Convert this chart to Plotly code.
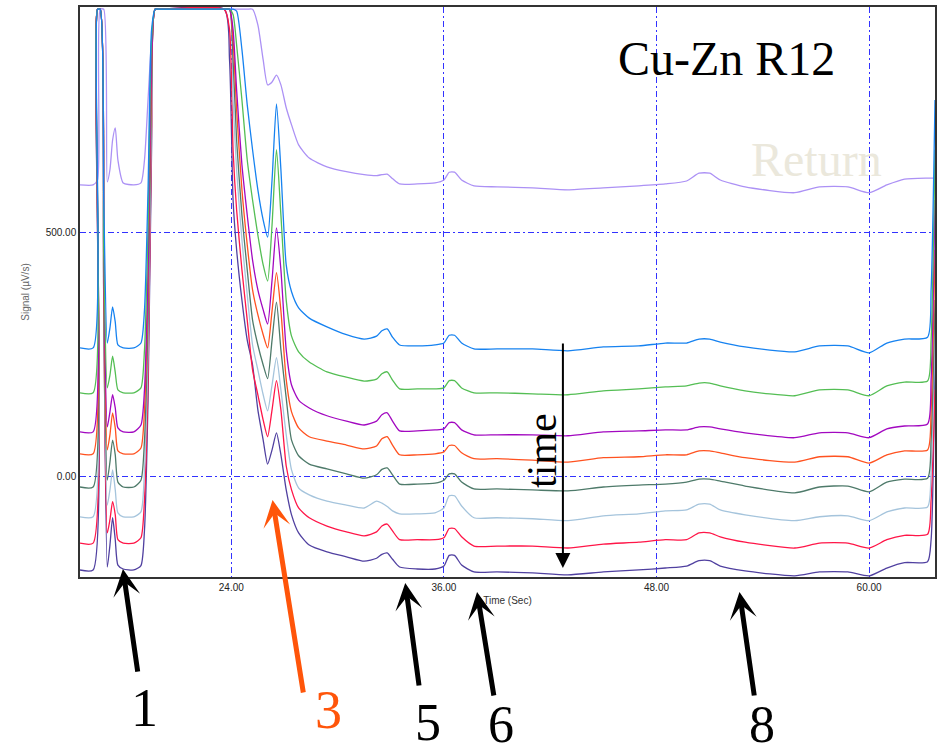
import plotly.graph_objects as go

# time axis (s)
time_s = [15.46, 16.2, 16.45, 16.6, 16.8, 17.0, 17.15, 17.3, 17.45, 17.6, 17.9, 18.5, 18.9, 19.1, 19.3, 19.5, 19.7, 20.0,
          23.6, 23.9, 24.1, 24.3, 24.6, 24.9, 25.2, 25.5, 25.8, 26.05, 26.3, 26.55, 26.8,
          27.1, 27.4, 27.8, 28.4, 29.4, 30.5, 31.5, 32.2, 32.5, 32.8, 33.1, 33.5, 34.5, 35.5, 36.0, 36.3, 36.6, 37.0, 37.7,
          39.0, 41.0, 43.0, 45.0, 47.0, 48.5, 49.7, 50.4, 51.0, 51.6, 53.0, 55.8, 57.2, 58.8, 60.0, 61.0, 62.0, 63.3, 63.5, 63.72]

sig_return = [597, 597, 607, 957, 957, 603, 628, 689, 714, 648, 601, 597, 601, 648, 771, 894, 957, 957,
              957, 957, 957, 957, 957, 957, 957, 925, 853, 802, 808, 822, 802,
              755, 720, 679, 652, 634, 624, 618, 616, 618, 619, 610, 599, 599, 601, 607, 623, 623, 607, 595,
              593, 591, 587, 591, 595, 599, 605, 621, 621, 607, 593, 581, 593, 593, 581, 597, 609, 611, 611, 611]
sig_blue = [263, 263, 957, 957, 566, 273, 304, 347, 316, 269, 263, 263, 273, 341, 587, 915, 957, 957,
            957, 957, 957, 953, 874, 761, 669, 587, 525, 490, 607, 763, 628,
            433, 378, 345, 324, 306, 290, 281, 287, 298, 302, 285, 269, 267, 269, 273, 289, 289, 273, 261,
            261, 261, 257, 265, 267, 273, 273, 281, 281, 275, 265, 255, 267, 267, 253, 273, 281, 285, 382, 771]
sig_green = [171, 171, 957, 957, 464, 181, 207, 246, 213, 177, 171, 171, 181, 259, 505, 894, 957, 957,
             957, 957, 946, 884, 771, 648, 566, 494, 433, 400, 515, 669, 535,
             361, 287, 255, 234, 214, 203, 195, 199, 210, 214, 197, 179, 179, 179, 181, 196, 196, 181, 171,
             171, 169, 167, 175, 179, 183, 185, 191, 191, 185, 175, 165, 177, 177, 165, 185, 193, 195, 279, 669]
sig_purple = [91, 91, 957, 957, 443, 101, 132, 167, 140, 99, 91, 91, 105, 177, 423, 853, 957, 957,
              957, 957, 915, 792, 638, 535, 443, 382, 341, 312, 402, 509, 423,
              259, 187, 156, 140, 124, 113, 105, 113, 126, 130, 113, 93, 93, 95, 97, 110, 110, 95, 85,
              85, 85, 83, 91, 93, 95, 95, 101, 101, 97, 89, 79, 89, 89, 79, 97, 103, 107, 198, 566]
sig_orange = [46, 46, 957, 957, 402, 54, 85, 130, 99, 52, 46, 46, 58, 136, 382, 833, 957, 957,
              957, 957, 894, 751, 587, 474, 382, 331, 290, 263, 339, 417, 339,
              198, 132, 99, 81, 72, 64, 56, 62, 77, 81, 64, 44, 44, 46, 50, 63, 63, 48, 36,
              36, 33, 29, 38, 40, 44, 44, 52, 52, 48, 38, 29, 40, 40, 27, 44, 52, 54, 136, 464]
sig_teal = [-22, -22, 957, 957, 361, -8, 29, 74, 44, -12, -22, -22, -8, 74, 320, 792, 957, 957,
            957, 957, 853, 689, 535, 423, 320, 269, 228, 200, 279, 357, 259,
            160, 74, 42, 25, 15, 5, -4, 3, 14, 17, 3, -16, -16, -14, -8, 5, 5, -12, -26,
            -26, -28, -30, -22, -18, -16, -12, -6, -6, -10, -20, -34, -22, -20, -32, -12, -6, -4, 74, 361]
sig_lightblue = [-83, -83, 957, 957, 361, -59, -28, 13, -28, -75, -83, -83, -73, 13, 259, 751, 957, 957,
                 957, 957, 771, 628, 484, 372, 269, 218, 167, 134, 187, 243, 177,
                 85, 13, -24, -38, -51, -59, -65, -51, -55, -62, -71, -77, -77, -75, -65, -40, -40, -61, -85,
                 -85, -87, -91, -81, -77, -71, -69, -57, -57, -69, -79, -91, -83, -81, -91, -73, -65, -63, 13, 299]
sig_red = [-137, -137, 957, 957, 361, -116, -89, -52, -79, -130, -137, -137, -126, -48, 198, 710, 957, 957,
           957, 915, 669, 546, 423, 320, 218, 167, 115, 81, 136, 196, 136,
           21, -28, -65, -85, -102, -114, -122, -114, -102, -98, -112, -130, -130, -130, -126, -107, -107, -124, -143,
           -143, -143, -147, -139, -135, -130, -130, -116, -116, -124, -135, -147, -137, -137, -147, -130, -121, -119, -48, 178]
sig_indigo = [-192, -192, 957, 957, 361, -186, -141, -85, -130, -182, -190, -192, -183, -110, 157, 669, 957, 957,
              957, 853, 566, 464, 361, 279, 228, 136, 74, 25, 54, 89, 44,
              -28, -79, -116, -141, -155, -165, -174, -168, -160, -157, -170, -186, -190, -190, -184, -162, -162, -182, -196,
              -196, -198, -202, -196, -192, -188, -184, -173, -173, -184, -194, -204, -196, -196, -204, -188, -177, -175, -130, 244]

x_ticks = [24, 36, 48, 60]
x_ticktext = ["24.00", "36.00", "48.00", "60.00"]
y_ticks = [0, 500]
y_ticktext = ["0.00", "500.00"]

series = [
    ("Return", sig_return, "rgb(172,145,245)"),
    ("run 8", sig_indigo, "rgb(80,64,160)"),
    ("run 7", sig_red, "rgb(255,22,72)"),
    ("run 6", sig_lightblue, "rgb(165,196,220)"),
    ("run 5", sig_teal, "rgb(78,122,106)"),
    ("run 4", sig_orange, "rgb(255,82,32)"),
    ("run 3", sig_purple, "rgb(162,8,192)"),
    ("run 2", sig_green, "rgb(84,190,84)"),
    ("run 1", sig_blue, "rgb(22,130,240)"),
]

fig = go.Figure()
for name, ys, col in series:
    fig.add_trace(go.Scatter(x=time_s, y=ys, mode="lines", name=name,
                             line=dict(color=col, width=1.3, shape="spline", smoothing=0.6),
                             hoverinfo="skip"))

grid_col = "rgb(50,50,255)"
sans = "Liberation Sans, Arial, sans-serif"
serif = "Liberation Serif, Times New Roman, serif"

fig.update_layout(
    width=938, height=753,
    margin=dict(l=80, r=1, t=7, b=176),
    paper_bgcolor="white", plot_bgcolor="white",
    showlegend=False,
    xaxis=dict(range=[15.46, 63.72], tickvals=x_ticks, ticktext=x_ticktext,
               showgrid=True, gridcolor=grid_col, gridwidth=1, griddash="6px,3px,2px,3px",
               zeroline=False, showline=True, linecolor="#333", linewidth=1.5, mirror=True,
               ticks="", tickfont=dict(family=sans, size=10, color="#222"),
               title=dict(text="Time (Sec)", font=dict(family=sans, size=10, color="#333"), standoff=5)),
    yaxis=dict(range=[-206.4, 961.5], tickvals=y_ticks, ticktext=y_ticktext,
               showgrid=True, gridcolor=grid_col, gridwidth=1, griddash="6px,3px,2px,3px",
               zeroline=False, showline=True, linecolor="#333", linewidth=1.5, mirror=True,
               ticks="", tickfont=dict(family=sans, size=10, color="#222"),
               title=dict(text="Signal (µV/s)", font=dict(family=sans, size=10, color="#666"), standoff=14)),
)

def arrow(x, y, ax, ay, color, width, head, size):
    fig.add_annotation(x=x, y=y, xref="paper", yref="paper", ax=ax, ay=ay, text="",
                       showarrow=True, arrowhead=head, arrowsize=size, arrowwidth=width,
                       arrowcolor=color, standoff=0, startstandoff=0)

def label(x, y, text, size, color, angle=0):
    fig.add_annotation(x=x, y=y, xref="paper", yref="paper", text=text, showarrow=False,
                       textangle=angle, xanchor="center", yanchor="middle",
                       font=dict(family=serif, size=size, color=color))

# peak markers
arrow(0.0502, 0.0140, 15, 104, "black", 5, 3, 0.9)
arrow(0.2252, 0.1351, 31, 194, "rgb(255,85,10)", 5, 3, 0.9)
arrow(0.3804, -0.0105, 14, 104, "black", 5, 3, 0.9)
arrow(0.4644, -0.0263, 17, 105, "black", 5, 3, 0.9)
arrow(0.7713, -0.0263, 15, 105, "black", 5, 3, 0.9)
# time arrow
arrow(0.5648, 0.0158, 0, -226, "black", 2, 2, 1.5)

label(0.0758, -0.2298, "1", 54, "black")
label(0.2905, -0.2333, "3", 54, "rgb(255,85,10)")
label(0.4072, -0.2544, "5", 52, "black")
label(0.4924, -0.2579, "6", 52, "black")
label(0.7981, -0.2579, "8", 52, "black")
label(0.5403, 0.2228, "time", 42, "black", angle=-90)
label(0.7561, 0.9105, "Cu-Zn R12", 48, "black")
label(0.8611, 0.7316, "Return", 48, "rgb(235,232,220)")

fig.write_html("out.html", config={"displayModeBar": False},
               post_script="document.body.style.margin='0';document.body.style.padding='0';")
